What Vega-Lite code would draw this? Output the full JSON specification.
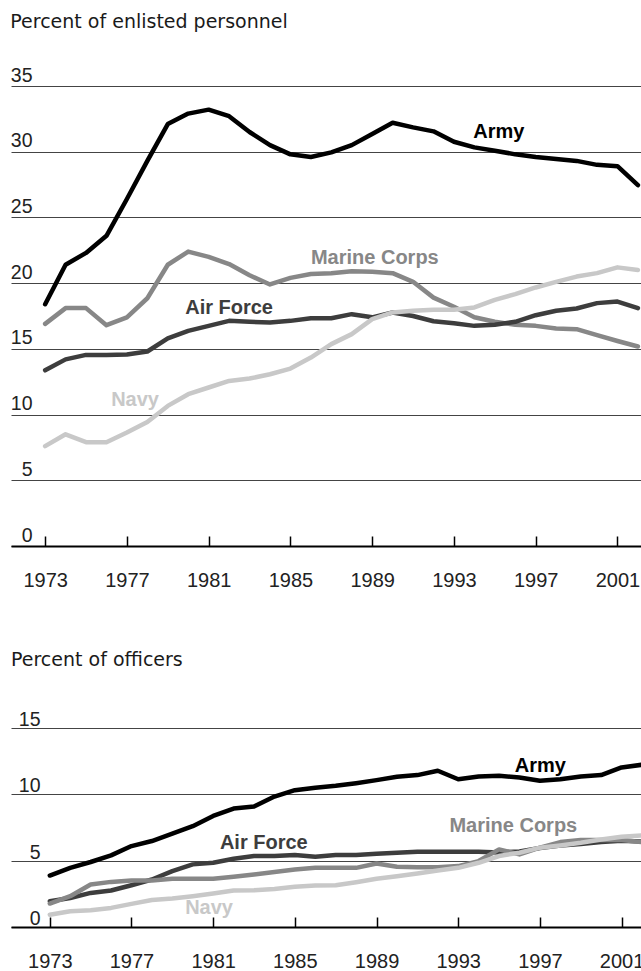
{
  "$schema": "https://vega.github.io/schema/vega-lite/v6.json",
  "padding": {"left": 10, "top": 13, "right": 0, "bottom": 0},
  "spacing": 60,
  "config": {"view": {"stroke": null}, "font": "Liberation Sans"},
  "datasets": {
    "enlisted": [
      {"year":1973,"service":"Army","value":18.4},{"year":1974,"service":"Army","value":21.4},{"year":1975,"service":"Army","value":22.3},{"year":1976,"service":"Army","value":23.6},{"year":1977,"service":"Army","value":26.4},{"year":1978,"service":"Army","value":29.3},{"year":1979,"service":"Army","value":32.1},{"year":1980,"service":"Army","value":32.9},{"year":1981,"service":"Army","value":33.2},{"year":1982,"service":"Army","value":32.7},{"year":1983,"service":"Army","value":31.5},{"year":1984,"service":"Army","value":30.5},{"year":1985,"service":"Army","value":29.8},{"year":1986,"service":"Army","value":29.6},{"year":1987,"service":"Army","value":29.95},{"year":1988,"service":"Army","value":30.5},{"year":1989,"service":"Army","value":31.35},{"year":1990,"service":"Army","value":32.2},{"year":1991,"service":"Army","value":31.85},{"year":1992,"service":"Army","value":31.55},{"year":1993,"service":"Army","value":30.76},{"year":1994,"service":"Army","value":30.33},{"year":1995,"service":"Army","value":30.08},{"year":1996,"service":"Army","value":29.8},{"year":1997,"service":"Army","value":29.6},{"year":1998,"service":"Army","value":29.44},{"year":1999,"service":"Army","value":29.3},{"year":2000,"service":"Army","value":29.0},{"year":2001,"service":"Army","value":28.9},{"year":2002,"service":"Army","value":27.46},
      {"year":1973,"service":"Marine Corps","value":16.9},{"year":1974,"service":"Marine Corps","value":18.1},{"year":1975,"service":"Marine Corps","value":18.1},{"year":1976,"service":"Marine Corps","value":16.8},{"year":1977,"service":"Marine Corps","value":17.4},{"year":1978,"service":"Marine Corps","value":18.85},{"year":1979,"service":"Marine Corps","value":21.4},{"year":1980,"service":"Marine Corps","value":22.4},{"year":1981,"service":"Marine Corps","value":22.0},{"year":1982,"service":"Marine Corps","value":21.45},{"year":1983,"service":"Marine Corps","value":20.6},{"year":1984,"service":"Marine Corps","value":19.9},{"year":1985,"service":"Marine Corps","value":20.4},{"year":1986,"service":"Marine Corps","value":20.7},{"year":1987,"service":"Marine Corps","value":20.76},{"year":1988,"service":"Marine Corps","value":20.9},{"year":1989,"service":"Marine Corps","value":20.86},{"year":1990,"service":"Marine Corps","value":20.76},{"year":1991,"service":"Marine Corps","value":20.1},{"year":1992,"service":"Marine Corps","value":18.9},{"year":1993,"service":"Marine Corps","value":18.2},{"year":1994,"service":"Marine Corps","value":17.4},{"year":1995,"service":"Marine Corps","value":17.06},{"year":1996,"service":"Marine Corps","value":16.83},{"year":1997,"service":"Marine Corps","value":16.75},{"year":1998,"service":"Marine Corps","value":16.55},{"year":1999,"service":"Marine Corps","value":16.5},{"year":2000,"service":"Marine Corps","value":16.04},{"year":2001,"service":"Marine Corps","value":15.6},{"year":2002,"service":"Marine Corps","value":15.18},
      {"year":1973,"service":"Air Force","value":13.37},{"year":1974,"service":"Air Force","value":14.2},{"year":1975,"service":"Air Force","value":14.54},{"year":1976,"service":"Air Force","value":14.54},{"year":1977,"service":"Air Force","value":14.57},{"year":1978,"service":"Air Force","value":14.8},{"year":1979,"service":"Air Force","value":15.8},{"year":1980,"service":"Air Force","value":16.37},{"year":1981,"service":"Air Force","value":16.75},{"year":1982,"service":"Air Force","value":17.13},{"year":1983,"service":"Air Force","value":17.06},{"year":1984,"service":"Air Force","value":17.0},{"year":1985,"service":"Air Force","value":17.13},{"year":1986,"service":"Air Force","value":17.33},{"year":1987,"service":"Air Force","value":17.33},{"year":1988,"service":"Air Force","value":17.64},{"year":1989,"service":"Air Force","value":17.4},{"year":1990,"service":"Air Force","value":17.77},{"year":1991,"service":"Air Force","value":17.5},{"year":1992,"service":"Air Force","value":17.1},{"year":1993,"service":"Air Force","value":16.95},{"year":1994,"service":"Air Force","value":16.75},{"year":1995,"service":"Air Force","value":16.83},{"year":1996,"service":"Air Force","value":17.06},{"year":1997,"service":"Air Force","value":17.56},{"year":1998,"service":"Air Force","value":17.9},{"year":1999,"service":"Air Force","value":18.07},{"year":2000,"service":"Air Force","value":18.48},{"year":2001,"service":"Air Force","value":18.6},{"year":2002,"service":"Air Force","value":18.1},
      {"year":1973,"service":"Navy","value":7.6},{"year":1974,"service":"Navy","value":8.5},{"year":1975,"service":"Navy","value":7.9},{"year":1976,"service":"Navy","value":7.9},{"year":1977,"service":"Navy","value":8.63},{"year":1978,"service":"Navy","value":9.44},{"year":1979,"service":"Navy","value":10.66},{"year":1980,"service":"Navy","value":11.55},{"year":1981,"service":"Navy","value":12.06},{"year":1982,"service":"Navy","value":12.56},{"year":1983,"service":"Navy","value":12.74},{"year":1984,"service":"Navy","value":13.07},{"year":1985,"service":"Navy","value":13.5},{"year":1986,"service":"Navy","value":14.34},{"year":1987,"service":"Navy","value":15.36},{"year":1988,"service":"Navy","value":16.12},{"year":1989,"service":"Navy","value":17.26},{"year":1990,"service":"Navy","value":17.77},{"year":1991,"service":"Navy","value":17.9},{"year":1992,"service":"Navy","value":17.97},{"year":1993,"service":"Navy","value":17.97},{"year":1994,"service":"Navy","value":18.15},{"year":1995,"service":"Navy","value":18.73},{"year":1996,"service":"Navy","value":19.16},{"year":1997,"service":"Navy","value":19.67},{"year":1998,"service":"Navy","value":20.1},{"year":1999,"service":"Navy","value":20.5},{"year":2000,"service":"Navy","value":20.76},{"year":2001,"service":"Navy","value":21.2},{"year":2002,"service":"Navy","value":21.0}
    ],
    "officers": [
      {"year":1973,"service":"Army","value":3.88},{"year":1974,"service":"Army","value":4.46},{"year":1975,"service":"Army","value":4.9},{"year":1976,"service":"Army","value":5.4},{"year":1977,"service":"Army","value":6.1},{"year":1978,"service":"Army","value":6.48},{"year":1979,"service":"Army","value":7.03},{"year":1980,"service":"Army","value":7.6},{"year":1981,"service":"Army","value":8.37},{"year":1982,"service":"Army","value":8.93},{"year":1983,"service":"Army","value":9.08},{"year":1984,"service":"Army","value":9.83},{"year":1985,"service":"Army","value":10.31},{"year":1986,"service":"Army","value":10.5},{"year":1987,"service":"Army","value":10.64},{"year":1988,"service":"Army","value":10.84},{"year":1989,"service":"Army","value":11.07},{"year":1990,"service":"Army","value":11.32},{"year":1991,"service":"Army","value":11.45},{"year":1992,"service":"Army","value":11.78},{"year":1993,"service":"Army","value":11.14},{"year":1994,"service":"Army","value":11.35},{"year":1995,"service":"Army","value":11.4},{"year":1996,"service":"Army","value":11.27},{"year":1997,"service":"Army","value":11.02},{"year":1998,"service":"Army","value":11.14},{"year":1999,"service":"Army","value":11.35},{"year":2000,"service":"Army","value":11.45},{"year":2001,"service":"Army","value":12.03},{"year":2002,"service":"Army","value":12.23},
      {"year":1973,"service":"Air Force","value":1.94},{"year":1974,"service":"Air Force","value":2.19},{"year":1975,"service":"Air Force","value":2.57},{"year":1976,"service":"Air Force","value":2.75},{"year":1977,"service":"Air Force","value":3.15},{"year":1978,"service":"Air Force","value":3.58},{"year":1979,"service":"Air Force","value":4.21},{"year":1980,"service":"Air Force","value":4.72},{"year":1981,"service":"Air Force","value":4.84},{"year":1982,"service":"Air Force","value":5.14},{"year":1983,"service":"Air Force","value":5.35},{"year":1984,"service":"Air Force","value":5.35},{"year":1985,"service":"Air Force","value":5.42},{"year":1986,"service":"Air Force","value":5.3},{"year":1987,"service":"Air Force","value":5.42},{"year":1988,"service":"Air Force","value":5.42},{"year":1989,"service":"Air Force","value":5.52},{"year":1990,"service":"Air Force","value":5.6},{"year":1991,"service":"Air Force","value":5.67},{"year":1992,"service":"Air Force","value":5.67},{"year":1993,"service":"Air Force","value":5.67},{"year":1994,"service":"Air Force","value":5.67},{"year":1995,"service":"Air Force","value":5.62},{"year":1996,"service":"Air Force","value":5.7},{"year":1997,"service":"Air Force","value":5.95},{"year":1998,"service":"Air Force","value":6.15},{"year":1999,"service":"Air Force","value":6.25},{"year":2000,"service":"Air Force","value":6.4},{"year":2001,"service":"Air Force","value":6.5},{"year":2002,"service":"Air Force","value":6.45},
      {"year":1973,"service":"Marine Corps","value":1.77},{"year":1974,"service":"Marine Corps","value":2.32},{"year":1975,"service":"Marine Corps","value":3.2},{"year":1976,"service":"Marine Corps","value":3.4},{"year":1977,"service":"Marine Corps","value":3.5},{"year":1978,"service":"Marine Corps","value":3.5},{"year":1979,"service":"Marine Corps","value":3.63},{"year":1980,"service":"Marine Corps","value":3.63},{"year":1981,"service":"Marine Corps","value":3.63},{"year":1982,"service":"Marine Corps","value":3.78},{"year":1983,"service":"Marine Corps","value":3.96},{"year":1984,"service":"Marine Corps","value":4.14},{"year":1985,"service":"Marine Corps","value":4.34},{"year":1986,"service":"Marine Corps","value":4.46},{"year":1987,"service":"Marine Corps","value":4.46},{"year":1988,"service":"Marine Corps","value":4.46},{"year":1989,"service":"Marine Corps","value":4.79},{"year":1990,"service":"Marine Corps","value":4.54},{"year":1991,"service":"Marine Corps","value":4.51},{"year":1992,"service":"Marine Corps","value":4.51},{"year":1993,"service":"Marine Corps","value":4.59},{"year":1994,"service":"Marine Corps","value":4.97},{"year":1995,"service":"Marine Corps","value":5.85},{"year":1996,"service":"Marine Corps","value":5.47},{"year":1997,"service":"Marine Corps","value":5.98},{"year":1998,"service":"Marine Corps","value":6.4},{"year":1999,"service":"Marine Corps","value":6.55},{"year":2000,"service":"Marine Corps","value":6.55},{"year":2001,"service":"Marine Corps","value":6.55},{"year":2002,"service":"Marine Corps","value":6.4},
      {"year":1973,"service":"Navy","value":0.93},{"year":1974,"service":"Navy","value":1.19},{"year":1975,"service":"Navy","value":1.26},{"year":1976,"service":"Navy","value":1.44},{"year":1977,"service":"Navy","value":1.74},{"year":1978,"service":"Navy","value":2.04},{"year":1979,"service":"Navy","value":2.14},{"year":1980,"service":"Navy","value":2.32},{"year":1981,"service":"Navy","value":2.52},{"year":1982,"service":"Navy","value":2.75},{"year":1983,"service":"Navy","value":2.77},{"year":1984,"service":"Navy","value":2.87},{"year":1985,"service":"Navy","value":3.03},{"year":1986,"service":"Navy","value":3.13},{"year":1987,"service":"Navy","value":3.15},{"year":1988,"service":"Navy","value":3.38},{"year":1989,"service":"Navy","value":3.63},{"year":1990,"service":"Navy","value":3.83},{"year":1991,"service":"Navy","value":4.03},{"year":1992,"service":"Navy","value":4.26},{"year":1993,"service":"Navy","value":4.46},{"year":1994,"service":"Navy","value":4.84},{"year":1995,"service":"Navy","value":5.35},{"year":1996,"service":"Navy","value":5.6},{"year":1997,"service":"Navy","value":5.98},{"year":1998,"service":"Navy","value":6.15},{"year":1999,"service":"Navy","value":6.35},{"year":2000,"service":"Navy","value":6.6},{"year":2001,"service":"Navy","value":6.81},{"year":2002,"service":"Navy","value":6.9}
    ],
    "enlistedLabels": [
      {"service":"Army","year":1995.2,"value":31.05},
      {"service":"Marine Corps","year":1989.13,"value":21.42},
      {"service":"Air Force","year":1982.0,"value":17.67},
      {"service":"Navy","year":1977.4,"value":10.69}
    ],
    "officersLabels": [
      {"service":"Army","year":1997.02,"value":11.66},
      {"service":"Marine Corps","year":1995.7,"value":7.15},
      {"service":"Air Force","year":1983.48,"value":5.89},
      {"service":"Navy","year":1980.8,"value":1.0}
    ]
  },
  "vconcat": [
    {
      "title": {"text": "Percent of enlisted personnel", "anchor": "start", "font": "DejaVu Sans", "fontSize": 19, "fontWeight": "normal", "color": "#1a1a1a", "baseline": "alphabetic", "offset": 18},
      "width": 631,
      "height": 460,
      "layer": [
        {
          "data": {"name": "enlisted"},
          "mark": {"type": "line", "strokeWidth": 4.5, "strokeJoin": "round", "strokeCap": "round", "clip": true},
          "encoding": {
            "x": {"field": "year", "type": "quantitative", "scale": {"domain": [1971.33, 2002.2], "nice": false, "zero": false},
              "axis": {"values": [1973,1977,1981,1985,1989,1993,1997,2001], "format": "d", "title": null, "grid": false, "domainColor": "#000", "domainWidth": 2, "tickColor": "#000", "tickWidth": 1.5, "tickSize": -10, "labelPadding": 34, "labelFont": "Liberation Sans", "labelFontSize": 20, "labelColor": "#222", "labelFlush": false, "labelOverlap": false}},
            "y": {"field": "value", "type": "quantitative", "scale": {"domain": [0, 35], "nice": false},
              "axis": {"values": [0,5,10,15,20,25,30,35], "title": null, "grid": true, "gridColor": "#444", "gridWidth": 1, "domain": false, "ticks": false, "tickSize": 0, "labelAlign": "right", "labelBaseline": "alphabetic", "labelPadding": -21, "labelOffset": -5, "labelFont": "Liberation Sans", "labelFontSize": 19.5, "labelColor": "#222"}},
            "color": {"field": "service", "type": "nominal", "scale": {"domain": ["Army", "Air Force", "Marine Corps", "Navy"], "range": ["#000000", "#3d3d3d", "#878787", "#c8c8c8"]}, "legend": null}
          }
        },
        {
          "data": {"name": "enlistedLabels"},
          "mark": {"type": "text", "font": "Liberation Sans", "fontSize": 20, "fontWeight": "bold", "align": "center", "baseline": "alphabetic"},
          "encoding": {
            "x": {"field": "year", "type": "quantitative"},
            "y": {"field": "value", "type": "quantitative"},
            "text": {"field": "service"},
            "color": {"field": "service", "type": "nominal", "legend": null}
          }
        }
      ]
    },
    {
      "title": {"text": "Percent of officers", "anchor": "start", "font": "DejaVu Sans", "fontSize": 19, "fontWeight": "normal", "color": "#1a1a1a", "baseline": "alphabetic", "offset": 25},
      "width": 631,
      "height": 199,
      "layer": [
        {
          "data": {"name": "officers"},
          "mark": {"type": "line", "strokeWidth": 4.5, "strokeJoin": "round", "strokeCap": "round", "clip": true},
          "encoding": {
            "x": {"field": "year", "type": "quantitative", "scale": {"domain": [1971.1, 2002.0], "nice": false, "zero": false},
              "axis": {"values": [1973,1977,1981,1985,1989,1993,1997,2001], "format": "d", "title": null, "grid": false, "domainColor": "#000", "domainWidth": 2, "tickColor": "#000", "tickWidth": 1.5, "tickSize": -10, "labelPadding": 34, "labelFont": "Liberation Sans", "labelFontSize": 20, "labelColor": "#222", "labelFlush": false, "labelOverlap": false}},
            "y": {"field": "value", "type": "quantitative", "scale": {"domain": [0, 15], "nice": false},
              "axis": {"values": [0,5,10,15], "title": null, "grid": true, "gridColor": "#444", "gridWidth": 1, "domain": false, "ticks": false, "tickSize": 0, "labelAlign": "right", "labelBaseline": "alphabetic", "labelPadding": -29, "labelOffset": -2.5, "labelFont": "Liberation Sans", "labelFontSize": 19.5, "labelColor": "#222"}},
            "color": {"field": "service", "type": "nominal", "scale": {"domain": ["Army", "Air Force", "Marine Corps", "Navy"], "range": ["#000000", "#3d3d3d", "#878787", "#c8c8c8"]}, "legend": null}
          }
        },
        {
          "data": {"name": "officersLabels"},
          "mark": {"type": "text", "font": "Liberation Sans", "fontSize": 20, "fontWeight": "bold", "align": "center", "baseline": "alphabetic"},
          "encoding": {
            "x": {"field": "year", "type": "quantitative"},
            "y": {"field": "value", "type": "quantitative"},
            "text": {"field": "service"},
            "color": {"field": "service", "type": "nominal", "legend": null}
          }
        }
      ]
    }
  ]
}
